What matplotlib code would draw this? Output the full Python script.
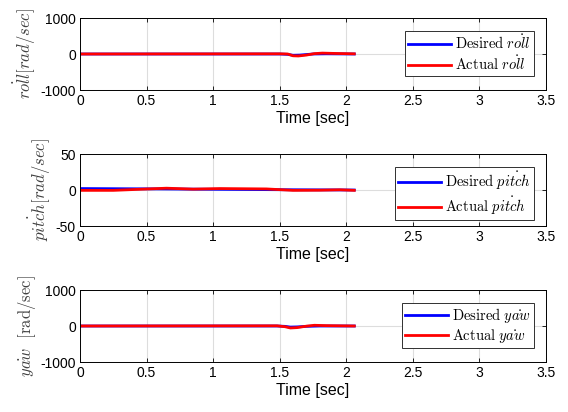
import matplotlib
matplotlib.use("Agg")
import matplotlib.pyplot as plt
import numpy as np

plt.rcParams['mathtext.fontset'] = 'cm'
plt.rcParams['font.family'] = ['Liberation Sans', 'DejaVu Sans']

# ---- data ----
t_roll_des = [0, 1.50, 1.56, 1.60, 1.65, 1.70, 1.75, 1.85, 2.06]
roll_des = [0, 0, -10, -35, -30, -15, 0, 5, 0]
t_roll_act = [0, 1.50, 1.56, 1.60, 1.64, 1.70, 1.76, 1.82, 1.92, 2.06]
roll_act = [0, 5, 0, -50, -55, -30, 10, 25, 15, 5]

t_pitch_des = [0, 0.5, 1.0, 1.5, 2.06]
pitch_des = [2.0, 1.6, 1.0, 0.4, 0.0]
t_pitch_act = [0, 0.25, 0.45, 0.65, 0.85, 1.05, 1.4, 1.6, 1.8, 1.95, 2.06]
pitch_act = [-0.5, -0.5, 1.0, 2.5, 1.2, 2.0, 1.5, -0.5, -0.3, 0.3, -0.5]

t_yaw_des = [0, 1.48, 1.54, 1.58, 1.63, 1.70, 1.80, 2.06]
yaw_des = [0, 0, -10, -30, -25, -10, 0, 0]
t_yaw_act = [0, 1.48, 1.54, 1.58, 1.63, 1.70, 1.76, 1.85, 2.06]
yaw_act = [0, 5, -20, -55, -45, -5, 20, 10, 0]

xticks = [0, 0.5, 1, 1.5, 2, 2.5, 3, 3.5]
xticklabels = ['0', '0.5', '1', '1.5', '2', '2.5', '3', '3.5']

panels = [
    dict(td=t_roll_des, yd=roll_des, ta=t_roll_act, ya=roll_act, ylim=(-1000, 1000),
         yticks=[-1000, 0, 1000], ylabel=r'$\dot{roll}[rad/sec]$',
         ld=r'$\mathrm{Desired}\ \dot{roll}$', la=r'$\mathrm{Actual}\ \dot{roll}$'),
    dict(td=t_pitch_des, yd=pitch_des, ta=t_pitch_act, ya=pitch_act, ylim=(-50, 50),
         yticks=[-50, 0, 50], ylabel=r'$\dot{pitch}[rad/sec]$',
         ld=r'$\mathrm{Desired}\ \dot{pitch}$', la=r'$\mathrm{Actual}\ \dot{pitch}$'),
    dict(td=t_yaw_des, yd=yaw_des, ta=t_yaw_act, ya=yaw_act, ylim=(-1000, 1000),
         yticks=[-1000, 0, 1000], ylabel=r'$\dot{yaw}\ \ \mathrm{[rad/sec]}$',
         ld=r'$\mathrm{Desired}\ \dot{yaw}$', la=r'$\mathrm{Actual}\ \dot{yaw}$'),
]

fig = plt.figure(figsize=(5.68, 4.12), dpi=100)
tops = [18, 154, 290]
for p, top in zip(panels, tops):
    h = 72
    ax = fig.add_axes([80 / 568, 1 - (top + h) / 412, 466 / 568, h / 412])
    ax.plot(p['td'], p['yd'], color='#0000ff', lw=2.0, label=p['ld'])
    ax.plot(p['ta'], p['ya'], color='#ff0000', lw=2.0, label=p['la'])
    ax.set_xlim(0, 3.5)
    ax.set_ylim(*p['ylim'])
    ax.set_xticks(xticks)
    ax.set_xticklabels(xticklabels)
    ax.set_yticks(p['yticks'])
    ax.set_yticklabels([str(v) for v in p['yticks']])
    ax.grid(True, color='#dddddd', lw=0.8)
    ax.set_axisbelow(True)
    ax.tick_params(direction='in', top=True, right=True, labelsize=10, length=3,
                   width=0.6, pad=3)
    for s in ax.spines.values():
        s.set_linewidth(0.7)
    ax.set_xlabel('Time [sec]', fontsize=11.5, labelpad=2)
    ax.set_ylabel(p['ylabel'], fontsize=12, color='#404040', labelpad=2)
    leg = ax.legend(loc='upper right', bbox_to_anchor=(0.974, 0.82), fontsize=10.5,
                    fancybox=False, edgecolor='#303030', framealpha=1,
                    handlelength=2.95, borderpad=0.2, labelspacing=0.12,
                    handletextpad=0.3, borderaxespad=0.0)
    leg.get_frame().set_linewidth(0.7)

fig.savefig('out.png', dpi=100)
